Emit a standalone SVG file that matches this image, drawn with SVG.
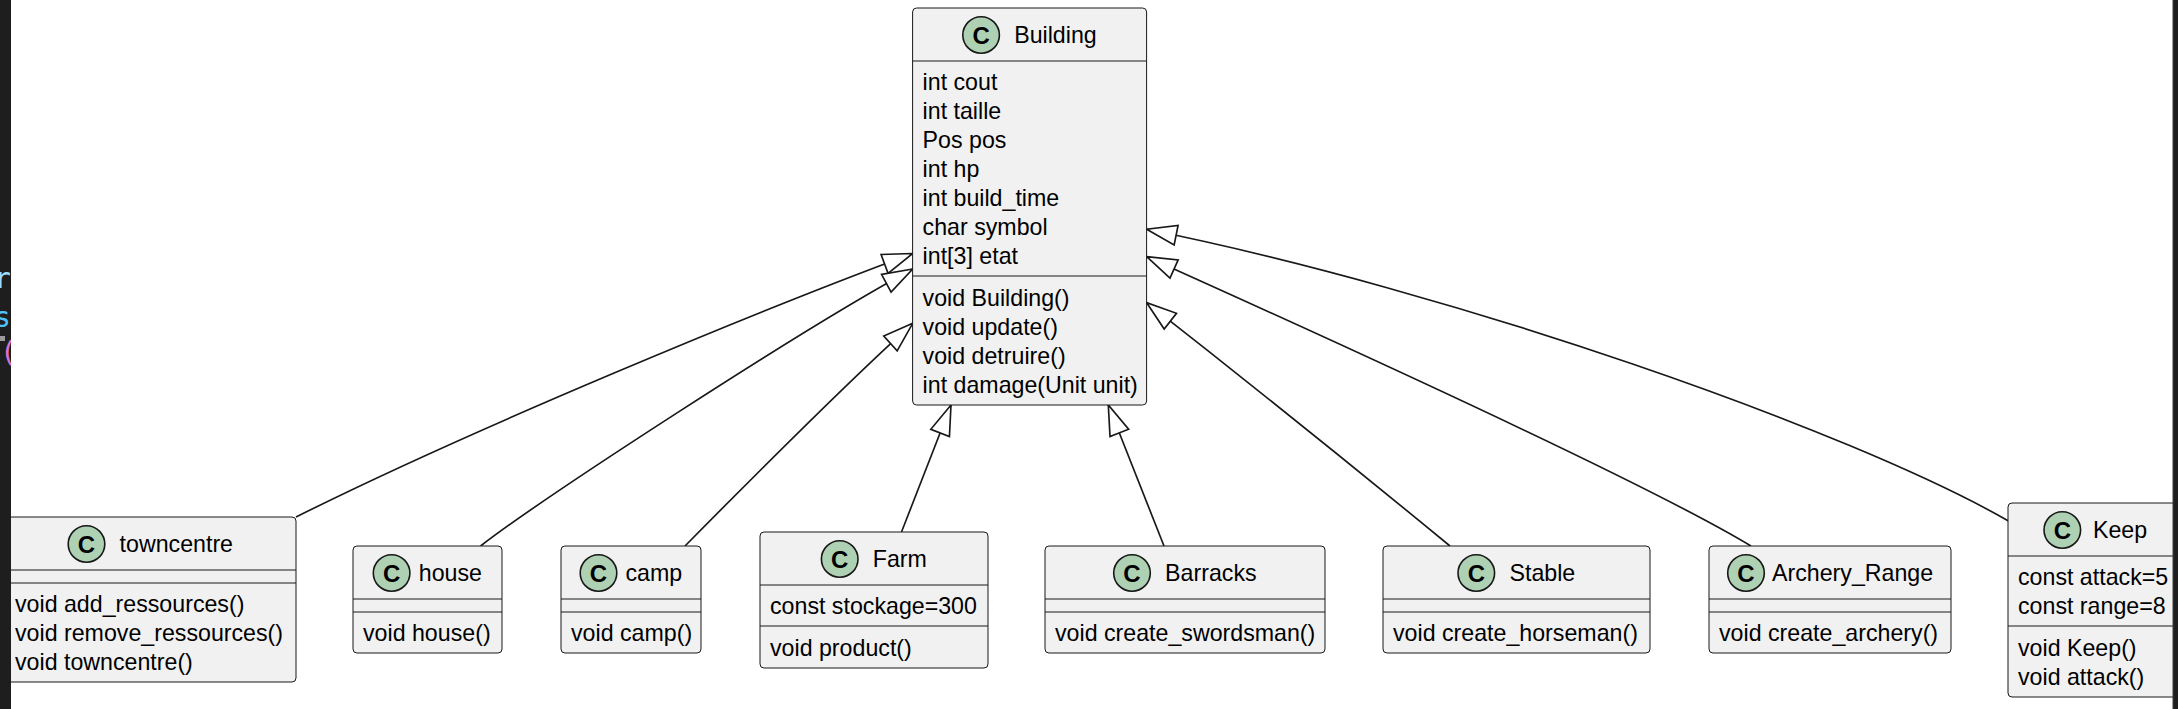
<svg xmlns="http://www.w3.org/2000/svg" width="2178" height="709" viewBox="0 0 2178 709">
<style>
.box{fill:#F1F1F1;stroke:#181818;stroke-width:1}
.sep{stroke:#181818;stroke-width:1}
.circ{fill:#ADD1B2;stroke:#181818;stroke-width:1.6}
.cl{font-family:"Liberation Sans",Arial,sans-serif;font-size:24px;font-weight:bold;text-anchor:middle;fill:#000}
.nm{font-family:"Liberation Sans",Arial,sans-serif;font-size:23.2px;fill:#000}
.mb{font-family:"Liberation Sans",Arial,sans-serif;font-size:23.2px;fill:#000}
.edge{fill:none;stroke:#181818;stroke-width:1.66;marker-end:url(#ext)}
.code{font-family:"DejaVu Sans Mono","Liberation Mono",monospace;font-size:28px}
</style>
<defs>
<marker id="ext" viewBox="-2 -12 34 24" refX="30" refY="0" markerWidth="34" markerHeight="24" markerUnits="userSpaceOnUse" orient="auto" overflow="visible">
<path d="M30,0 L0,-10 L0,10 Z" fill="#FFFFFF" stroke="#181818" stroke-width="1.66" stroke-linejoin="miter"/>
</marker>
<clipPath id="leftclip"><rect x="0" y="0" width="11" height="709"/></clipPath>
</defs>
<rect x="0" y="0" width="2178" height="709" fill="#FFFFFF"/>

<g id="connectors">
<path class="edge" d="M296,517 C470,430 760,310 912.7,253.5"/>
<path class="edge" d="M480.6,546 C540,500 800,330 912.7,269"/>
<path class="edge" d="M685,546 C760,470 850,380 912.7,323.3"/>
<path class="edge" d="M901.5,532 L951,405"/>
<path class="edge" d="M1164,546 L1108.3,405"/>
<path class="edge" d="M1450,546 C1360,472 1220,360 1146.7,302.7"/>
<path class="edge" d="M1751,546 C1650,485 1350,348 1146.7,256.7"/>
<path class="edge" d="M2008.5,521 C1850,430 1450,290 1146.7,229.3"/>
</g>

<g id="Building">
<rect class="box" x="912.6" y="8" width="234" height="397" rx="4"/>
<circle class="circ" cx="981.1" cy="35" r="18.3"/>
<text class="cl" x="981.1" y="43.5">C</text>
<text class="nm" x="1014.2" y="43">Building</text>
<line class="sep" x1="913" y1="61" x2="1146.2" y2="61"/>
<text class="mb" x="922.6" y="90">int cout</text>
<text class="mb" x="922.6" y="119">int taille</text>
<text class="mb" x="922.6" y="148">Pos pos</text>
<text class="mb" x="922.6" y="177">int hp</text>
<text class="mb" x="922.6" y="206">int build_time</text>
<text class="mb" x="922.6" y="235">char symbol</text>
<text class="mb" x="922.6" y="264">int[3] etat</text>
<line class="sep" x1="913" y1="276" x2="1146.2" y2="276"/>
<text class="mb" x="922.6" y="306">void Building()</text>
<text class="mb" x="922.6" y="335">void update()</text>
<text class="mb" x="922.6" y="364">void detruire()</text>
<text class="mb" x="922.6" y="393">int damage(Unit unit)</text>
</g>

<g id="towncentre">
<rect class="box" x="5" y="517" width="291" height="165" rx="4"/>
<circle class="circ" cx="86.5" cy="544" r="18.3"/>
<text class="cl" x="86.5" y="552.5">C</text>
<text class="nm" x="119.6" y="552">towncentre</text>
<line class="sep" x1="5" y1="570" x2="296" y2="570"/>
<line class="sep" x1="5" y1="583" x2="296" y2="583"/>
<text class="mb" x="15" y="612">void add_ressources()</text>
<text class="mb" x="15" y="641">void remove_ressources()</text>
<text class="mb" x="15" y="670">void towncentre()</text>
</g>

<g id="house">
<rect class="box" x="353" y="546" width="149" height="107" rx="4"/>
<circle class="circ" cx="391.6" cy="573" r="18.3"/>
<text class="cl" x="391.6" y="581.5">C</text>
<text class="nm" x="418.8" y="581">house</text>
<line class="sep" x1="353" y1="599" x2="502" y2="599"/>
<line class="sep" x1="353" y1="612" x2="502" y2="612"/>
<text class="mb" x="363" y="641">void house()</text>
</g>

<g id="camp">
<rect class="box" x="561" y="546" width="140" height="107" rx="4"/>
<circle class="circ" cx="598.5" cy="573" r="18.3"/>
<text class="cl" x="598.5" y="581.5">C</text>
<text class="nm" x="625.5" y="581">camp</text>
<line class="sep" x1="561" y1="599" x2="701" y2="599"/>
<line class="sep" x1="561" y1="612" x2="701" y2="612"/>
<text class="mb" x="571" y="641">void camp()</text>
</g>

<g id="Farm">
<rect class="box" x="760" y="532" width="228" height="136" rx="4"/>
<circle class="circ" cx="839.7" cy="559" r="18.3"/>
<text class="cl" x="839.7" y="567.5">C</text>
<text class="nm" x="872.8" y="567">Farm</text>
<line class="sep" x1="760" y1="585" x2="988" y2="585"/>
<text class="mb" x="770" y="614">const stockage=300</text>
<line class="sep" x1="760" y1="626" x2="988" y2="626"/>
<text class="mb" x="770" y="655.5">void product()</text>
</g>

<g id="Barracks">
<rect class="box" x="1045" y="546" width="280" height="107" rx="4"/>
<circle class="circ" cx="1132" cy="573" r="18.3"/>
<text class="cl" x="1132" y="581.5">C</text>
<text class="nm" x="1165.1" y="581">Barracks</text>
<line class="sep" x1="1045" y1="599" x2="1325" y2="599"/>
<line class="sep" x1="1045" y1="612" x2="1325" y2="612"/>
<text class="mb" x="1055" y="641">void create_swordsman()</text>
</g>

<g id="Stable">
<rect class="box" x="1383" y="546" width="267" height="107" rx="4"/>
<circle class="circ" cx="1476.3" cy="573" r="18.3"/>
<text class="cl" x="1476.3" y="581.5">C</text>
<text class="nm" x="1509.5" y="581">Stable</text>
<line class="sep" x1="1383" y1="599" x2="1650" y2="599"/>
<line class="sep" x1="1383" y1="612" x2="1650" y2="612"/>
<text class="mb" x="1393" y="641">void create_horseman()</text>
</g>

<g id="Archery_Range">
<rect class="box" x="1709" y="546" width="242" height="107" rx="4"/>
<circle class="circ" cx="1746" cy="573" r="18.3"/>
<text class="cl" x="1746" y="581.5">C</text>
<text class="nm" x="1772" y="581">Archery_Range</text>
<line class="sep" x1="1709" y1="599" x2="1951" y2="599"/>
<line class="sep" x1="1709" y1="612" x2="1951" y2="612"/>
<text class="mb" x="1719" y="641">void create_archery()</text>
</g>

<g id="Keep">
<rect class="box" x="2008" y="503" width="175" height="194" rx="4"/>
<circle class="circ" cx="2062.3" cy="530" r="18.3"/>
<text class="cl" x="2062.3" y="538.5">C</text>
<text class="nm" x="2093" y="538">Keep</text>
<line class="sep" x1="2008" y1="556" x2="2183" y2="556"/>
<text class="mb" x="2018" y="585">const attack=5</text>
<text class="mb" x="2018" y="614">const range=8</text>
<line class="sep" x1="2008" y1="626" x2="2183" y2="626"/>
<text class="mb" x="2018" y="656">void Keep()</text>
<text class="mb" x="2018" y="685">void attack()</text>
</g>

<g id="window-edges">
<rect x="0" y="0" width="11" height="709" fill="#1E1E1E"/>
<g clip-path="url(#leftclip)">
<text class="code" x="-6" y="288" fill="#9CDCFE">r</text>
<text class="code" x="-6" y="327" fill="#4FC1FF">s</text>
<rect x="0" y="336" width="5" height="5" fill="#9A9A9A"/>
<text class="code" x="0" y="362" fill="#DA70D6">(</text>
</g>
<rect x="2173" y="0" width="5" height="709" fill="#1E1E1E"/>
<line x1="2173" y1="0" x2="2173" y2="709" stroke="#3C3C3C" stroke-width="1"/>
</g>
</svg>
